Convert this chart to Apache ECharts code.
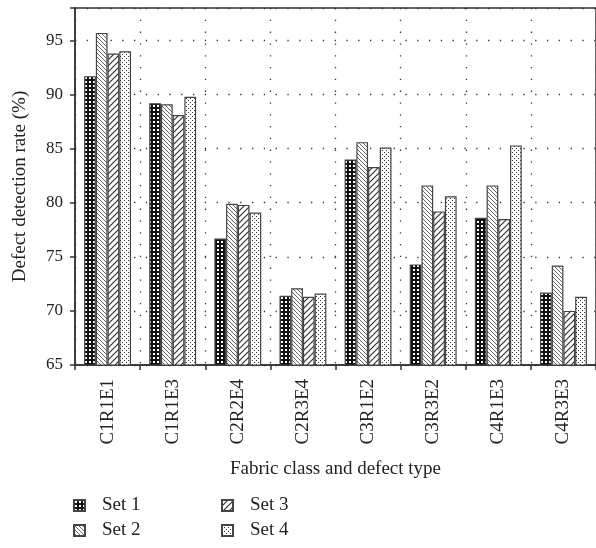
<!DOCTYPE html>
<html><head><meta charset="utf-8">
<script src="https://cdn.jsdelivr.net/npm/echarts@6/dist/echarts.min.js"></script>
<style>html,body{margin:0;padding:0;background:#fff}#c{width:596px;height:548px}</style>
</head><body><div id="c"></div>
<script>
var categories = ['C1R1E1','C1R1E3','C2R2E4','C2R3E4','C3R1E2','C3R3E2','C4R1E3','C4R3E3'];
var set1 = [91.7, 89.2, 76.7, 71.4, 84.0, 74.3, 78.6, 71.7];
var set2 = [95.7, 89.1, 79.9, 72.1, 85.6, 81.6, 81.6, 74.2];
var set3 = [93.8, 88.1, 79.8, 71.3, 83.3, 79.2, 78.5, 70.0];
var set4 = [94.0, 89.8, 79.1, 71.6, 85.1, 80.6, 85.3, 71.3];
var seriesNames = ['Set 1','Set 2','Set 3','Set 4'];
var yTicks = {min: 65, max: 98, interval: 5};

function tile(w, h, draw) {
  var c = document.createElement('canvas'); c.width = w; c.height = h;
  var g = c.getContext('2d'); draw(g, w, h); return {image: c, repeat: 'repeat'};
}
var pat1 = tile(4, 4, function (g) { g.fillStyle = '#111'; g.fillRect(0,0,4,4); g.fillStyle = '#fff'; g.fillRect(1,1,2,2); });
var pat2 = tile(4, 4, function (g, w, h) {
  g.fillStyle = '#fff'; g.fillRect(0,0,w,h); g.strokeStyle = '#666'; g.lineWidth = 1;
  g.beginPath(); g.moveTo(-1,-1); g.lineTo(w+1,h+1); g.moveTo(-1,h-1); g.lineTo(1,h+1); g.moveTo(w-1,-1); g.lineTo(w+1,1); g.stroke();
});
var pat3 = tile(6, 6, function (g, w, h) {
  g.fillStyle = '#fff'; g.fillRect(0,0,w,h); g.strokeStyle = '#333'; g.lineWidth = 1.2;
  g.beginPath(); g.moveTo(-1,h+1); g.lineTo(w+1,-1); g.moveTo(-1,1); g.lineTo(1,-1); g.moveTo(w-1,h+1); g.lineTo(w+1,h-1); g.stroke();
});
var pat4 = tile(4, 4, function (g) { g.fillStyle = '#fff'; g.fillRect(0,0,4,4); g.fillStyle = '#333'; g.fillRect(0,0,1,1); g.fillRect(2,2,1,1); });
var pats = [pat1, pat2, pat3, pat4];
var data = [set1, set2, set3, set4];

var font = 'Liberation Serif';
var chart = echarts.init(document.getElementById('c'), null, {renderer: 'canvas'});
var series = data.map(function (d, i) {
  return {
    name: seriesNames[i], type: 'bar', data: d, barGap: '0%', barCategoryGap: '28%',
    itemStyle: {color: pats[i], borderColor: '#444', borderWidth: 1.2},
    emphasis: {disabled: true}
  };
});
var legendPos = [[73, 496], [73, 521], [221, 496], [221, 521]];
var legends = seriesNames.map(function (n, i) {
  return {data: [{name: n, icon: 'rect'}], left: legendPos[i][0], top: legendPos[i][1], itemWidth: 11, itemHeight: 11,
    padding: 0, selectedMode: false,
    textStyle: {fontFamily: font, fontSize: 19, color: '#222', padding: [0, 0, 0, 12]}};
});
var dotted = {color: '#333', width: 1.3, type: [1.3, 10.5]};
chart.setOption({
  animation: false,
  grid: {left: 75, top: 8, width: 523, height: 357, show: true, borderColor: '#333', borderWidth: 1.5, backgroundColor: 'transparent'},
  legend: legends,
  xAxis: {
    type: 'category', data: categories,
    name: 'Fabric class and defect type', nameLocation: 'middle', nameGap: 95,
    nameTextStyle: {fontFamily: font, fontSize: 19, color: '#222'},
    axisLine: {lineStyle: {color: '#333', width: 1.5}},
    axisTick: {show: true, length: 5, lineStyle: {color: '#333', width: 1.5}},
    axisLabel: {rotate: 90, fontFamily: font, fontSize: 19, color: '#222', margin: 14},
    splitLine: {show: true, lineStyle: dotted}
  },
  yAxis: {
    type: 'value', min: yTicks.min, max: yTicks.max, interval: yTicks.interval,
    name: 'Defect detection rate (%)', nameLocation: 'middle', nameGap: 45,
    nameTextStyle: {fontFamily: font, fontSize: 19, color: '#222'},
    axisLine: {show: true, lineStyle: {color: '#333', width: 1.5}},
    axisTick: {show: true, length: 5, lineStyle: {color: '#333', width: 1.5}},
    axisLabel: {fontFamily: font, fontSize: 17, color: '#222', margin: 12,
      formatter: function (v) { return v % 5 === 0 ? String(v) : ''; }},
    splitLine: {show: true, lineStyle: dotted}
  },
  series: series
});
</script></body></html>
